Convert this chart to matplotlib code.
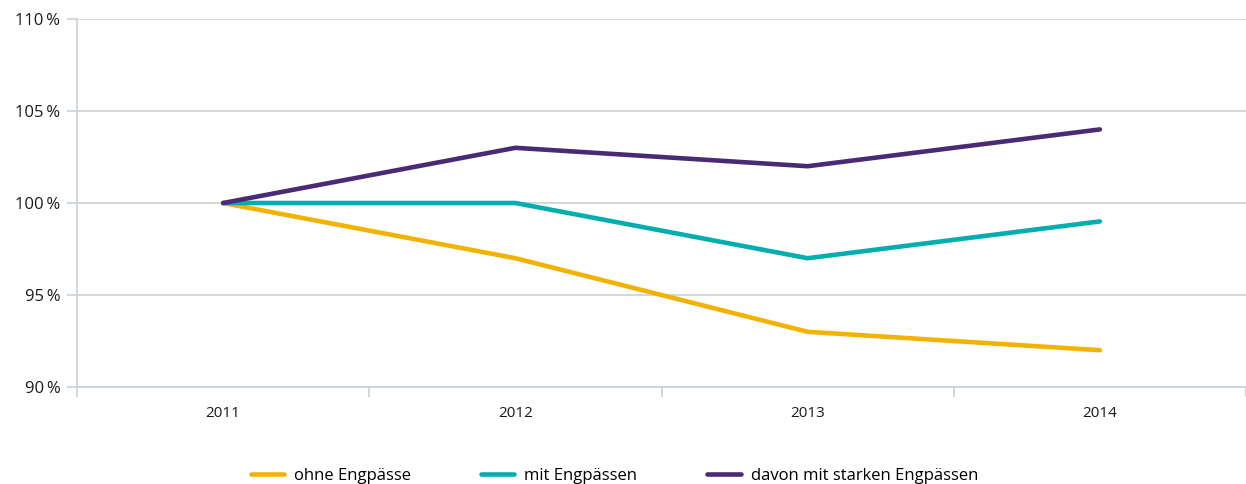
import matplotlib.pyplot as plt
from matplotlib.ticker import FuncFormatter

years = ["2011", "2012", "2013", "2014"]
ohne = [100, 97, 93, 92]
mit = [100, 100, 97, 99]
stark = [100, 103, 102, 104]

labels = ["ohne Engpässe", "mit Engpässen", "davon mit starken Engpässen"]
colors = ["#F2B300", "#00AEB0", "#4A2A74"]
GRID = "#C9D1D6"

plt.rcParams["font.family"] = ["Open Sans", "DejaVu Sans"]

fig = plt.figure(figsize=(12.46, 4.84), dpi=100)
ax = fig.add_axes([0.0618, 0.2004, 0.9382, 0.7603])

x = list(range(len(years)))
for series, label, color in zip([ohne, mit, stark], labels, colors):
    ax.plot(x, series, color=color, linewidth=3.3, label=label, solid_capstyle="round")

ax.set_xlim(-0.5, len(years) - 0.5)
ax.set_ylim(90, 110)
ax.set_yticks([90, 95, 100, 105, 110])
ax.yaxis.set_major_formatter(FuncFormatter(lambda v, _: "{:.0f}\u2009%".format(v)))
ax.set_xticks(x)
ax.set_xticklabels(years)
ax.set_xticks([i - 0.5 for i in range(len(years) + 1)], minor=True)

ax.grid(True, axis="y", color=GRID, linewidth=1.2)
ax.set_axisbelow(True)
for side in ["top", "right"]:
    ax.spines[side].set_visible(False)
for side in ["left", "bottom"]:
    ax.spines[side].set_color(GRID)
    ax.spines[side].set_linewidth(1.2)

ax.tick_params(axis="y", length=7, color=GRID, width=1.2, labelsize=12, pad=5, labelcolor="#1a1a1a")
ax.tick_params(axis="x", which="major", length=0, labelsize=11, pad=14, labelcolor="#1a1a1a")
ax.tick_params(axis="x", which="minor", length=7, color=GRID, width=1.2)

fig.legend(
    loc="lower center",
    bbox_to_anchor=(0.493, -0.03),
    ncol=3,
    frameon=False,
    fontsize=12,
    handlelength=2.0,
    columnspacing=4.2,
    handletextpad=0.6,
)

fig.savefig("out.png", dpi=100)
